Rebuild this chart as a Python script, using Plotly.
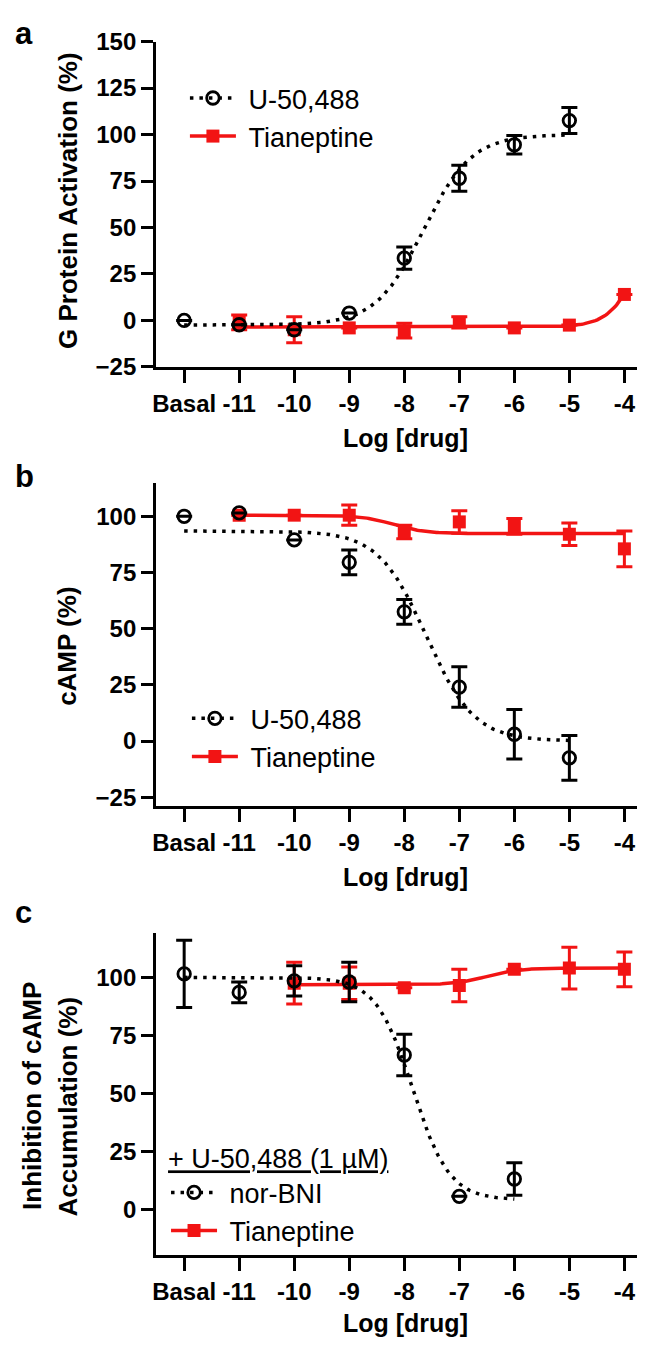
import numpy as np
import plotly.graph_objects as go

# --- data ---
x_tick_vals = [-12, -11, -10, -9, -8, -7, -6, -5, -4]
x_tick_text = ["Basal", "-11", "-10", "-9", "-8", "-7", "-6", "-5", "-4"]

# panel a: G protein activation
a_u50_x = [-12, -11, -10, -9, -8, -7, -6, -5]
a_u50_y = [0, -2.3, -5, 4, 33.5, 76.5, 94.5, 107.5]
a_u50_err = [None, None, None, None, 6, 7, 5, 7]
a_tia_x = [-11, -10, -9, -8, -7, -6, -5, -4]
a_tia_y = [-1, -5, -4, -5.5, -1, -4, -2.5, 14]
a_tia_err = [4, 7, None, 4, 3, None, None, None]

# panel b: cAMP
b_u50_x = [-12, -11, -10, -9, -8, -7, -6, -5]
b_u50_y = [100, 101.5, 89.5, 79.5, 57.5, 24, 3, -7.5]
b_u50_err = [None, None, None, 5.5, 5.5, 9, 11, 10]
b_tia_x = [-11, -10, -9, -8, -7, -6, -5, -4]
b_tia_y = [100.5, 100.5, 100.5, 93, 97.5, 95.5, 92, 85.5]
b_tia_err = [None, None, 4.5, 3, 5, 3.5, 5, 8]

# panel c: inhibition of cAMP accumulation (+ U-50,488 1 uM)
c_nor_x = [-12, -11, -10, -9, -8, -7, -6]
c_nor_y = [101.5, 93.5, 98.5, 98, 66.5, 5.5, 13]
c_nor_err = [14.5, 4.5, 6.5, 8.5, 9, None, 7]
c_tia_x = [-10, -9, -8, -7, -6, -5, -4]
c_tia_y = [97.5, 97.5, 95.5, 96.5, 103.5, 104, 103.5]
c_tia_err = [9, 7, None, 7, None, 9, 7.5]

# fitted curves: [bottom, top, logEC50, hill, x_start, x_end]
a_u50_fit = [-2.5, 100, -7.65, 1.0, -12, -5]
a_tia_fit = [-3.5, 100, -3.55, 1.5, -11, -4]
b_u50_fit = [0, 93.5, -7.6, -1.0, -12, -5]
b_tia_fit = [92.3, 100.5, -8.2, -1.5, -11, -4]
c_nor_fit = [4, 100, -7.85, -1.3, -12, -6]
c_tia_fit = [96.8, 104, -6.5, 1.5, -10, -4]

RED = "#f21414"
BLACK = "black"
FONT = "Liberation Sans, Arial, sans-serif"
W, H = 645, 1346


def px_x(px):
    return px / W


def px_y(py):
    return 1 - py / H


def curve(fit):
    bottom, top, logec, hill, x0, x1 = fit
    xs = np.linspace(x0, x1, 200)
    ys = bottom + (top - bottom) / (1 + 10 ** ((logec - xs) * hill))
    return xs, ys


def err(vals):
    return [v if v is not None else float("nan") for v in vals]


fig = go.Figure()

panels = [
    dict(n="", leg="legend", pts=[(a_tia_x, a_tia_y, a_tia_err, a_tia_fit, "Tianeptine", "red"),
                                  (a_u50_x, a_u50_y, a_u50_err, a_u50_fit, "U-50,488", "black")]),
    dict(n="2", leg="legend2", pts=[(b_tia_x, b_tia_y, b_tia_err, b_tia_fit, "Tianeptine", "red"),
                                    (b_u50_x, b_u50_y, b_u50_err, b_u50_fit, "U-50,488", "black")]),
    dict(n="3", leg="legend3", pts=[(c_tia_x, c_tia_y, c_tia_err, c_tia_fit, "Tianeptine", "red"),
                                    (c_nor_x, c_nor_y, c_nor_err, c_nor_fit, "nor-BNI", "black")]),
]

for p in panels:
    xa, ya = "x" + p["n"], "y" + p["n"]
    for xs, ys, es, fit, name, kind in p["pts"]:
        col = RED if kind == "red" else BLACK
        cx, cy = curve(fit)
        line = dict(color=col, width=3.5) if kind == "red" else dict(color=col, width=3.5, dash="3.5px,6px")
        fig.add_trace(go.Scatter(x=cx, y=cy, mode="lines", line=line, xaxis=xa, yaxis=ya,
                                 showlegend=False, hoverinfo="skip"))
        if kind == "red":
            marker = dict(symbol="square", size=13, color=col)
        else:
            marker = dict(symbol="circle-open", size=12.5, color=col, line=dict(width=2.8, color=col))
        fig.add_trace(go.Scatter(x=xs, y=ys, mode="markers", marker=marker, xaxis=xa, yaxis=ya,
                                 error_y=dict(type="data", array=err(es), visible=True,
                                              color=col, thickness=3, width=8),
                                 showlegend=False, name=name))
        # legend entry
        fig.add_trace(go.Scatter(x=[None], y=[None], mode="lines+markers", line=line, marker=marker,
                                 name="\u00a0" + name, xaxis=xa, yaxis=ya, legend=p["leg"],
                                 legendrank=1 if kind == "black" else 2))

axis_common = dict(showline=True, linewidth=3, linecolor="black", ticks="outside",
                   tickwidth=3, tickcolor="black", showgrid=False, zeroline=False,
                   tickfont=dict(family=FONT, size=24, color="black", weight="bold"))

# panel geometry (px)
geo = [
    dict(top=20, bottom=352, yr=[-25, 150], yt=[-25, 0, 25, 50, 75, 100, 125, 150]),
    dict(top=470, bottom=800, yr=[-28.9, 115], yt=[-25, 0, 25, 50, 75, 100]),
    dict(top=930, bottom=1258, yr=[-19.7, 119], yt=[0, 25, 50, 75, 100]),
]

layout_axes = {}
for i, g in enumerate(geo):
    n = "" if i == 0 else str(i + 1)
    layout_axes["xaxis" + n] = dict(axis_common, domain=[px_x(145), 1], range=[-12.51, -3.48],
                                    tickvals=x_tick_vals, ticktext=x_tick_text, ticklen=13,
                                    anchor="y" + n)
    layout_axes["yaxis" + n] = dict(axis_common, domain=[px_y(g["bottom"]), px_y(g["top"])],
                                    range=g["yr"], tickvals=g["yt"], ticklen=12,
                                    anchor="x" + n)

leg_common = dict(font=dict(family=FONT, size=27, color="black"), bgcolor="rgba(0,0,0,0)",
                  xanchor="left", yanchor="top", tracegroupgap=0, itemwidth=46)

annotations = []
for letter, cy in [("a", 12), ("b", 464), ("c", 909)]:
    annotations.append(dict(text="<b>%s</b>" % letter, x=px_x(1), y=px_y(cy), xref="paper", yref="paper",
                            xanchor="left", yanchor="middle", showarrow=False,
                            font=dict(family=FONT, size=31, color="black")))
for cy in [425, 873, 1328]:
    annotations.append(dict(text="<b>Log [drug]</b>", x=px_x(396), y=px_y(cy), xref="paper", yref="paper",
                            xanchor="center", yanchor="middle", showarrow=False,
                            font=dict(family=FONT, size=25, color="black")))
for txt, cx, cy in [("G Protein Activation (%)", 57, 182), ("cAMP (%)", 56, 637),
                    ("Inhibition of cAMP", 20, 1096), ("Accumulation (%)", 56, 1107)]:
    annotations.append(dict(text="<b>%s</b>" % txt, x=px_x(cx), y=px_y(cy),
                            xref="paper", yref="paper", xanchor="center", yanchor="middle",
                            textangle=-90, showarrow=False,
                            font=dict(family=FONT, size=26, color="black")))

fig.update_layout(
    width=W, height=H,
    margin=dict(l=0, r=0, t=0, b=0),
    paper_bgcolor="white", plot_bgcolor="white",
    legend=dict(leg_common, x=px_x(174), y=px_y(53)),
    legend2=dict(leg_common, x=px_x(176), y=px_y(686)),
    legend3=dict(leg_common, x=px_x(155), y=px_y(1134),
                 title=dict(text="<u>+ U-50,488 (1 µM)</u>", font=dict(family=FONT, size=27, color="black"))),
    annotations=annotations,
    **layout_axes,
)

fig.write_html("out.html")
